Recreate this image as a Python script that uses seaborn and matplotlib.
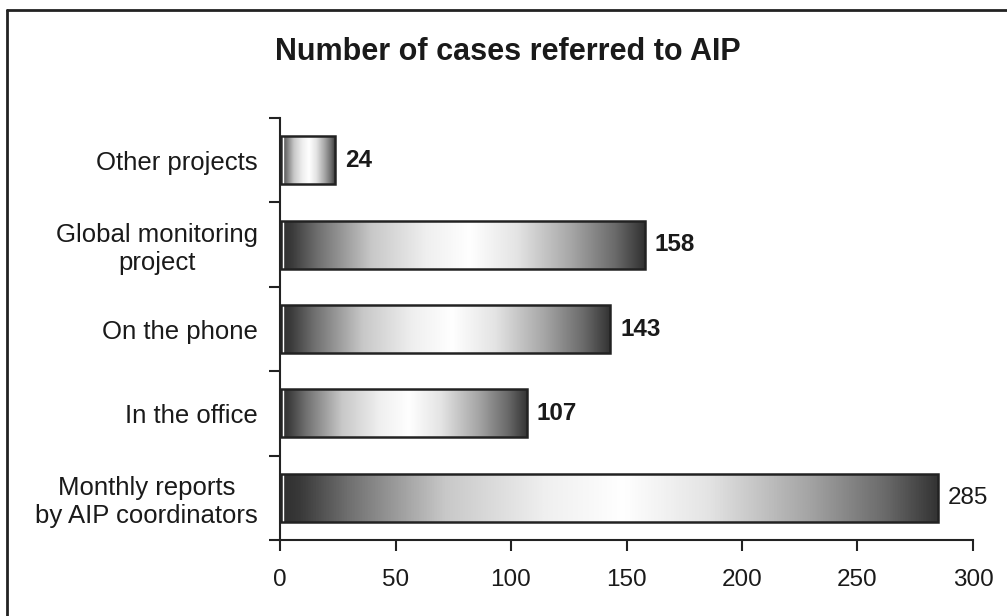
import numpy as np
import pandas as pd
import matplotlib
matplotlib.use("Agg")
import matplotlib.pyplot as plt
from matplotlib.colors import LinearSegmentedColormap
from matplotlib.lines import Line2D
import seaborn as sns

# data
categories = ["Other projects", "Global monitoring\nproject", "On the phone",
              "In the office", "Monthly reports\nby AIP coordinators"]
cases = [24, 158, 143, 107, 285]
label_bold = [True, True, True, True, False]
x_ticks = [0, 50, 100, 150, 200, 250, 300]

df = pd.DataFrame({"source": categories, "cases": cases})

sns.set_theme(style="white")
plt.rcParams["font.family"] = ["Liberation Sans", "DejaVu Sans"]

fig = plt.figure(figsize=(10.07, 6.16), dpi=100)
ax = fig.add_axes([280 / 1007, 1 - 540 / 616, 693 / 1007, 422 / 616])

sns.barplot(data=df, y="source", x="cases", orient="h", width=0.57,
            color="white", edgecolor="#222222", linewidth=1.8, ax=ax, zorder=3)

# metallic grey gradient for every bar
shade = LinearSegmentedColormap.from_list("metal", [
    (0.00, "#2e2e2e"), (0.03, "#3a3a3a"),
    (0.10, "#6e6e6e"), (0.25, "#c8c8c8"), (0.40, "#efefef"),
    (0.52, "#ffffff"), (0.65, "#e4e4e4"), (0.80, "#a6a6a6"),
    (0.92, "#6a6a6a"), (1.00, "#333333")])
grad = np.linspace(0, 1, 512).reshape(1, -1)
for patch in ax.patches:
    patch.set_facecolor("none")
    x0, y0 = patch.get_x(), patch.get_y()
    w, h = patch.get_width(), patch.get_height()
    im = ax.imshow(grad, cmap=shade, aspect="auto", zorder=2,
                   extent=[x0, x0 + w, y0 + h, y0], interpolation="bilinear")
    im.set_clip_path(patch)
    # thin highlight line near the left end
    ax.plot([x0 + 1.4, x0 + 1.4], [y0, y0 + h], color="white", lw=1.0,
            zorder=2.5)

for i, (v, b) in enumerate(zip(cases, label_bold)):
    ax.annotate(str(v), (v, i), xytext=(7, 0), textcoords="offset points",
                va="center", ha="left", fontsize=17.5,
                fontweight="bold" if b else "normal", color="#1a1a1a")

ax.set_xlim(0, 300)
ax.set_ylim(4.5, -0.5)
ax.set_xticks(x_ticks)
ax.set_xticklabels([str(t) for t in x_ticks], fontsize=17.5, color="#1a1a1a")
ax.tick_params(axis="x", direction="out", length=8, width=1.5,
               color="#222222", pad=13, bottom=True)

ax.set_yticks(np.arange(-0.5, 5, 1.0))
ax.set_yticklabels([])
ax.set_yticks(range(len(categories)), minor=True)
ax.set_yticklabels(categories, minor=True, fontsize=18.5, color="#1a1a1a",
                   multialignment="center")
ax.tick_params(axis="y", which="major", direction="out", length=8, width=1.5,
               color="#222222", left=True)
ax.tick_params(axis="y", which="minor", length=0, pad=16)

ax.set_xlabel("")
ax.set_ylabel("")
for s in ["top", "right"]:
    ax.spines[s].set_visible(False)
for s in ["left", "bottom"]:
    ax.spines[s].set_color("#222222")
    ax.spines[s].set_linewidth(1.5)

fig.text(508 / 1007, 1 - 52 / 616, "Number of cases referred to AIP",
         ha="center", va="center", fontsize=22, fontweight="bold",
         color="#1a1a1a")

# outer frame (left and top edges)
fig.add_artist(Line2D([7 / 1007, 1], [1 - 10 / 616] * 2, transform=fig.transFigure,
                      color="#222222", lw=2))
fig.add_artist(Line2D([7 / 1007] * 2, [0, 1 - 10 / 616], transform=fig.transFigure,
                      color="#222222", lw=2))

fig.savefig("out.png", dpi=100)
